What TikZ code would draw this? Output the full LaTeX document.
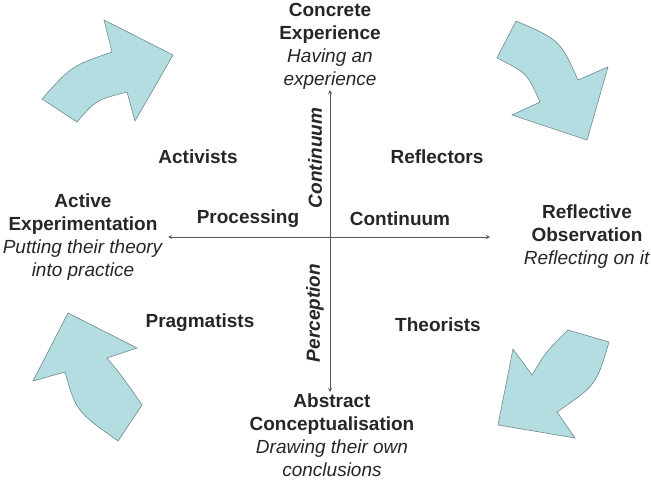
\documentclass[tikz,border=0pt]{standalone}
\usepackage{fontspec}
\setmainfont{Liberation Sans}
\definecolor{arrowfill}{HTML}{B3DDE0}
\definecolor{arrowline}{HTML}{6E8A8C}
\definecolor{axisgray}{HTML}{555555}
\tikzset{
    label/.style={font=\fontsize{19}{23}\selectfont\bfseries, text=black!85},
    stage/.style={font=\fontsize{19}{23}\selectfont, text=black!85, align=center},
    axislabel/.style={font=\fontsize{19}{23}\selectfont\bfseries\itshape, text=black!85, rotate=90},
    blockarrow/.style={fill=arrowfill, draw=arrowline, line width=0.6pt, line join=miter},
}
\begin{document}
\begin{tikzpicture}[x=1pt, y=-1pt, >=stealth]
    \useasboundingbox (0,0) rectangle (651,484);

    % axes
    \coordinate (O) at (330,237);
    \coordinate (Top) at (330,90);
    \coordinate (Bottom) at (330,392);
    \coordinate (Left) at (168,237);
    \coordinate (Right) at (490,237);
    \draw[->, axisgray, line width=0.8pt] (O) -- (Top);
    \draw[->, axisgray, line width=0.8pt] (O) -- (Bottom);
    \draw[->, axisgray, line width=0.8pt] (O) -- (Left);
    \draw[->, axisgray, line width=0.8pt] (O) -- (Right);

    % the four stages
    \node[stage] (CE) at (330,46) {\textbf{Concrete}\\\textbf{Experience}\\\textit{Having an}\\\textit{experience}};
    \node[stage] (RO) at (587,237) {\textbf{Reflective}\\\textbf{Observation}\\\textit{Reflecting on it}};
    \node[stage] (AC) at (332,435) {\textbf{Abstract}\\\textbf{Conceptualisation}\\\textit{Drawing their own}\\\textit{conclusions}};
    \node[stage] (AE) at (83,237) {\textbf{Active}\\\textbf{Experimentation}\\\textit{Putting their theory}\\\textit{into practice}};

    % learning styles
    \node[label] (activists) at (198,157) {Activists};
    \node[label] (reflectors) at (437,157) {Reflectors};
    \node[label] (pragmatists) at (200,323) {Pragmatists};
    \node[label] (theorists) at (438,325) {Theorists};

    % axis names
    \node[label] (processing) at (248,219) {Processing};
    \node[label] (continuumH) at (400,219) {Continuum};
    \node[axislabel] (continuumV) at (315,158) {Continuum};
    \node[axislabel] (perception) at (315,313) {Perception};

    % curved block arrows
    \draw[blockarrow] (42,99) .. controls (71.5,66) .. (112,52) -- (104,20) -- (173,55)
        -- (135,121) -- (127,92) .. controls (96,100) .. (77,122) -- cycle;
    \draw[blockarrow] (516,21) .. controls (560,40) .. (578,80) -- (608,67) -- (587,140)
        -- (512,115) -- (540,102) .. controls (527,73) .. (497,58) -- cycle;
    \draw[blockarrow] (609,342) .. controls (596.3,385) .. (557,412) -- (575,438) -- (498,425)
        -- (513,349) -- (532,375) .. controls (546,351.8) .. (568,330) -- cycle;
    \draw[blockarrow] (118,441) .. controls (76.2,411.2) .. (65,372) -- (33,381) -- (68,313)
        -- (137,348) -- (107,358) .. controls (122.5,376.8) .. (142,405) -- cycle;
\end{tikzpicture}
\end{document}
